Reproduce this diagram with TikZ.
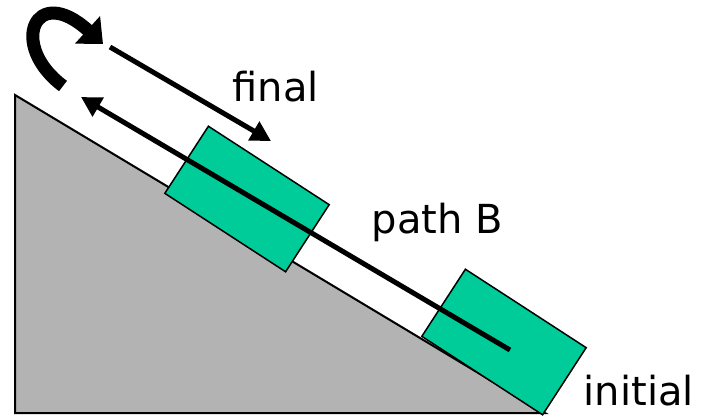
\documentclass[tikz,border=0pt]{standalone}
\usepackage{fontspec}
\setmainfont{DejaVu Sans}
\usetikzlibrary{arrows.meta}
\definecolor{blockgreen}{RGB}{0,204,153}
\definecolor{rampgray}{RGB}{179,179,179}
\tikzset{every picture/.style={line width=1.5pt}}
\tikzset{
  block/.style={draw=black, line width=1.5pt, fill=blockgreen, minimum width=144pt, minimum height=80pt, inner sep=0pt, rotate=-33},
  lbl/.style={font=\fontsize{40}{48}\selectfont, inner sep=0pt, anchor=base west},
  move/.style={line width=5pt, -{Triangle[length=20pt,width=21pt]}},
}

\begin{document}
\begin{tikzpicture}[x=1pt, y=-1pt]
    \useasboundingbox (0,0) rectangle (709,416);

    % schiefe Ebene
    \draw[fill=rampgray, line width=2pt] (15,95) -- (545,413) -- (15,413) -- cycle;

    % Klotz oben und unten
    \node[block] (upper) at (247,199) {};
    \node[block] (lower) at (504,342) {};

    % Weg B nach oben
    \coordinate (pathStart) at (510,350);
    \coordinate (pathTip) at (81,97);
    \draw[move] (pathStart) -- (pathTip);

    % Umkehr oben
    \coordinate (turnTail) at (63,86);
    \coordinate (turnTip) at (103,44);
    \draw[line width=13pt, -{Triangle[length=21pt,width=36pt]}] (turnTail) .. controls (8,45) and (35,-18) .. (turnTip);

    % zurueck nach unten
    \coordinate (backTail) at (110,47);
    \coordinate (backTip) at (271,141);
    \draw[move] (backTail) -- (backTip);

    % Beschriftung
    \node[lbl] (final) at (232,101) {final};
    \node[lbl] (pathB) at (371,233) {path B};
    \node[lbl] (initial) at (583,405) {initial};
\end{tikzpicture}
\end{document}
